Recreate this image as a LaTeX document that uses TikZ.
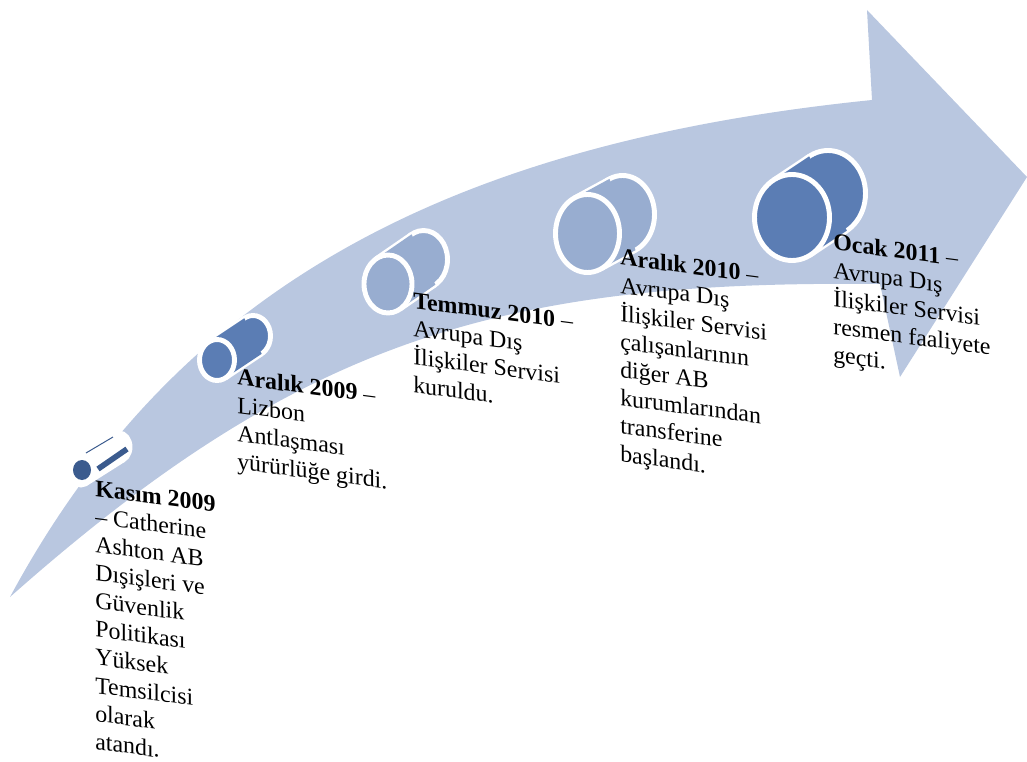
\documentclass[tikz,border=0pt]{standalone}
\usepackage{fontspec}
\setmainfont{Liberation Serif}
\usetikzlibrary{calc,positioning}
\definecolor{arrowfill}{HTML}{B9C7E0}
\definecolor{cylmid}{HTML}{5B7DB4}
\definecolor{cyllight}{HTML}{98ADD0}
\definecolor{cyldark}{HTML}{3B5B8E}

\begin{document}
\begin{tikzpicture}[
  x=0.025cm, y=-0.025cm,
  ring/.style={draw=white, line width=3.5pt},
  event/.style={anchor=north west, inner sep=0pt, align=left, yslant=-0.13,
    font=\fontsize{17}{20}\selectfont},
  ]
\useasboundingbox (0,0) rectangle (1027,762);

% curved arrow
\coordinate (tail) at (10,597);
\coordinate (neck) at (872,100);
\fill[arrowfill] (tail) .. controls (170,300) and (430,145) .. (neck)
  -- (867,10) -- (1027,177) -- (900,377) -- (880,284)
  .. controls (500,280) and (300,340) .. (tail) -- cycle;

% cylinders
\foreach \fx/\fy/\rx/\ry/\dx/\dy/\col in {81/471/11/14/38/-24/white, 217/360/17.5/20.5/36/-24/cylmid,
    388/284/24/29/35.5/-24.5/cyllight, 587.5/233.5/32/39/35/-19/cyllight, 792/217.5/37.5/43/36/-24/cylmid}
{
  \pgfmathsetmacro\t{atan(-\ry*\dx/(\rx*\dy))}
  \coordinate (front) at (\fx,\fy);
  \coordinate (lo) at ($(front)+({\rx*cos(\t)},{\ry*sin(\t)})$);
  \coordinate (hi) at ($(front)-({\rx*cos(\t)},{\ry*sin(\t)})$);
  \draw[ring, fill=\col] ($(front)+(\dx,\dy)$) ellipse [x radius=\rx, y radius=\ry];
  \draw[ring] (lo) -- ++(\dx,\dy) (hi) -- ++(\dx,\dy);
  \fill[\col] (lo) -- ++(\dx,\dy) -- ($(hi)+(\dx,\dy)$) -- (hi) -- cycle;
  \draw[ring, fill=\col] (front) ellipse [x radius=\rx, y radius=\ry];
}
\fill[cyldark] (82,470) ellipse [x radius=9, y radius=10];
\draw[cyldark, line width=4pt] (98,469) -- (127,449);
\draw[cyldark, line width=.7pt] (86,453) -- (113,437);

% events
\node[event] (kasim) at (95,480) {\textbf{Kasım 2009}\\– Catherine\\Ashton AB\\Dışişleri ve\\Güvenlik\\Politikası\\Yüksek\\Temsilcisi\\olarak\\atandı.};
\node[event] (aralik09) at (237,368) {\textbf{Aralık 2009} –\\Lizbon\\Antlaşması\\yürürlüğe girdi.};
\node[event] (temmuz) at (413,292) {\textbf{Temmuz 2010} –\\Avrupa Dış\\İlişkiler Servisi\\kuruldu.};
\node[event] (aralik10) at (620,248) {\textbf{Aralık 2010} –\\Avrupa Dış\\İlişkiler Servisi\\çalışanlarının\\diğer AB\\kurumlarından\\transferine\\başlandı.};
\node[event] (ocak) at (833,233) {\textbf{Ocak 2011} –\\Avrupa Dış\\İlişkiler Servisi\\resmen faaliyete\\geçti.};

\end{tikzpicture}
\end{document}
